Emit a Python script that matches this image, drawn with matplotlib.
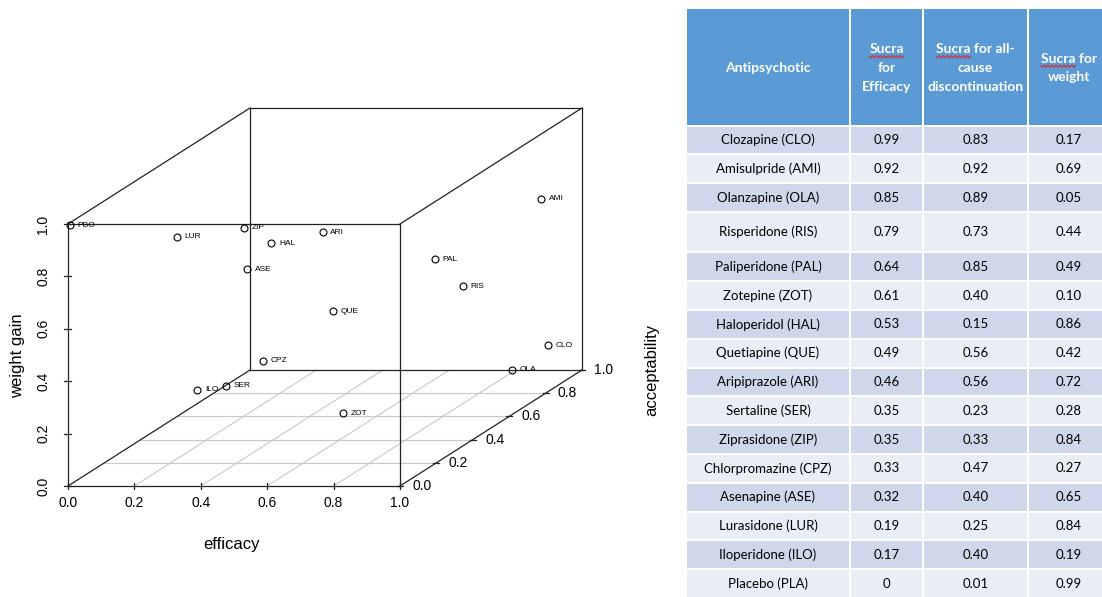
import matplotlib.pyplot as plt
import numpy as np
from matplotlib.patches import Rectangle

# SUCRA values per antipsychotic
drugs = ['Clozapine (CLO)', 'Amisulpride (AMI)', 'Olanzapine (OLA)', 'Risperidone (RIS)',
         'Paliperidone (PAL)', 'Zotepine (ZOT)', 'Haloperidol (HAL)', 'Quetiapine (QUE)',
         'Aripiprazole (ARI)', 'Sertaline (SER)', 'Ziprasidone (ZIP)', 'Chlorpromazine (CPZ)',
         'Asenapine (ASE)', 'Lurasidone (LUR)', 'Iloperidone (ILO)', 'Placebo (PLA)']
codes = ['CLO', 'AMI', 'OLA', 'RIS', 'PAL', 'ZOT', 'HAL', 'QUE',
         'ARI', 'SER', 'ZIP', 'CPZ', 'ASE', 'LUR', 'ILO', 'PBO']
sucra_eff = [0.99, 0.92, 0.85, 0.79, 0.64, 0.61, 0.53, 0.49,
             0.46, 0.35, 0.35, 0.33, 0.32, 0.19, 0.17, 0]
sucra_disc = [0.83, 0.92, 0.89, 0.73, 0.85, 0.40, 0.15, 0.56,
              0.56, 0.23, 0.33, 0.47, 0.40, 0.25, 0.40, 0.01]
sucra_wt = [0.17, 0.69, 0.05, 0.44, 0.49, 0.10, 0.86, 0.42,
            0.72, 0.28, 0.84, 0.27, 0.65, 0.84, 0.19, 0.99]

axis_ticks = [0.0, 0.2, 0.4, 0.6, 0.8, 1.0]
tick_labels = ['0.0', '0.2', '0.4', '0.6', '0.8', '1.0']

header_lines = [['Antipsychotic'],
                ['Sucra', 'for', 'Efficacy'],
                ['Sucra for all-', 'cause', 'discontinuation'],
                ['Sucra for', 'weight']]

plt.rcParams['font.family'] = ['Liberation Sans', 'DejaVu Sans']
narrow = ['Liberation Sans Narrow', 'Liberation Sans']
tfont = ['Lato', 'DejaVu Sans']

fig = plt.figure(figsize=(11.02, 5.97), dpi=100)

# table, laid out in pixel units
tab = fig.add_axes([0, 0, 1, 1])
tab.set_xlim(0, 1102)
tab.set_ylim(597, 0)
tab.axis('off')

# oblique 3d box like scatterplot3d
ax = fig.add_axes([0, 0, 640 / 1102, 1])
SX, SZ = 332.0, 262.0
OX, OY = 68.0, 486.0
ax.set_xlim(-OX / SX, (640 - OX) / SX)
ax.set_ylim((OY - 597) / SZ, OY / SZ)
ax.axis('off')
DX, DY = 182 / SX, 116 / SZ


def proj(e, a, w):
    e, a, w = np.asarray(e, float), np.asarray(a, float), np.asarray(w, float)
    return e + DX * a, w + DY * a


line_col = '#222222'

# floor grid
for t in axis_ticks[1:-1]:
    xs, ys = proj([t, t], [0, 1], [0, 0])
    ax.plot(xs, ys, color='#c8c8c8', lw=0.8, zorder=1)
    xs, ys = proj([0, 1], [t, t], [0, 0])
    ax.plot(xs, ys, color='#c8c8c8', lw=0.8, zorder=1)

# box edges
corners = [(i, j, k) for i in (0, 1) for j in (0, 1) for k in (0, 1)]
for c1 in corners:
    for c2 in corners:
        if c1 < c2 and sum(abs(p - q) for p, q in zip(c1, c2)) == 1:
            xs, ys = proj(*zip(c1, c2))
            ax.plot(xs, ys, color=line_col, lw=0.9, zorder=2)

# ticks and tick labels
for t, lab in zip(axis_ticks, tick_labels):
    x, y = proj(t, 0, 0)
    ax.plot([x, x], [y - 3 / SZ, y + 3 / SZ], color=line_col, lw=0.9)
    ax.text(x, y - 17 / SZ, lab, ha='center', va='center', fontsize=10, family=narrow)
    x, y = proj(0, 0, t)
    ax.plot([x - 4 / SX, x + 3 / SX], [y, y], color=line_col, lw=0.9)
    ax.text(x - 25 / SX, y, lab, rotation=90, ha='center', va='center', fontsize=10)
    x, y = proj(1, t, 0)
    ax.plot([x - 3 / SX, x + 3 / SX], [y, y], color=line_col, lw=0.9)
    ax.text(x + 22 / SX, y, lab, ha='center', va='center', fontsize=10, family=narrow)

ax.text((232 - OX) / SX, (OY - 545) / SZ, 'efficacy', ha='center', va='center',
        fontsize=12, family=narrow)
ax.text((18 - OX) / SX, (OY - 356) / SZ, 'weight gain', ha='center', va='center',
        rotation=90, fontsize=12)
ax.text((652 - OX) / SX, (OY - 370) / SZ, 'acceptability', ha='center', va='center',
        rotation=90, fontsize=12)

# points
px, py = proj(sucra_eff, sucra_disc, sucra_wt)
ax.plot(px, py, 'o', ls='none', mfc='none', mec='black', ms=5, mew=0.8, zorder=5)
for x, y, c in zip(px, py, codes):
    ax.annotate(c, (x, y), xytext=(5.5, 0), textcoords='offset points',
                fontsize=6, va='center', family=narrow)

# table cells
col_edges = [686, 850, 923, 1028, 1112]
col_mid = [(a + b) / 2 for a, b in zip(col_edges[:-1], col_edges[1:])]
col_mid[-1] = 1069
head_top, head_bot = 9, 125.5
row_h = [28.8] * len(drugs)
row_h[3] = 40.5
blue, dark, light = '#5B9BD5', '#CFD8EA', '#E9EDF5'

for a, b in zip(col_edges[:-1], col_edges[1:]):
    tab.add_patch(Rectangle((a + 1, head_top), b - a - 2, head_bot - head_top - 1,
                            facecolor=blue, edgecolor='none'))

sucra_texts = []
head_mid = 68
for cx, lines in zip(col_mid, header_lines):
    n = len(lines)
    for i, ln in enumerate(lines):
        y = head_mid + (i - (n - 1) / 2) * 18.7
        t = tab.text(cx, y, ln, ha='center', va='center', color='white',
                     fontsize=10, weight='bold', family=tfont)
        if ln.startswith('Sucra'):
            sucra_texts.append((t, y))

y0 = head_bot
for r, name in enumerate(drugs):
    h = row_h[r]
    fc = dark if r % 2 == 0 else light
    for a, b in zip(col_edges[:-1], col_edges[1:]):
        tab.add_patch(Rectangle((a + 1, y0 + 1), b - a - 2, h - 2,
                                facecolor=fc, edgecolor='none'))
    vals = [name] + ['0' if v == 0 else f'{v:.2f}'
                     for v in (sucra_eff[r], sucra_disc[r], sucra_wt[r])]
    for cx, s in zip(col_mid, vals):
        tab.text(cx, y0 + h / 2, s, ha='center', va='center', color='black',
                 fontsize=9.5, family=tfont)
    y0 += h

# red spell-check squiggle under "Sucra"
renderer = fig.canvas.get_renderer()
for t, y in sucra_texts:
    bb = t.get_window_extent(renderer)
    tmp = tab.text(0, 0, 'Sucra', fontsize=10, weight='bold', family=tfont)
    w = tmp.get_window_extent(renderer).width
    tmp.remove()
    xs = np.linspace(bb.x0, bb.x0 + w, 60)
    ys = y + 7.5 + 1.2 * np.sin(2 * np.pi * (xs - bb.x0) / 4.0)
    tab.plot(xs, ys, color='#E0201C', lw=0.7)

fig.savefig('out.png', dpi=100)
